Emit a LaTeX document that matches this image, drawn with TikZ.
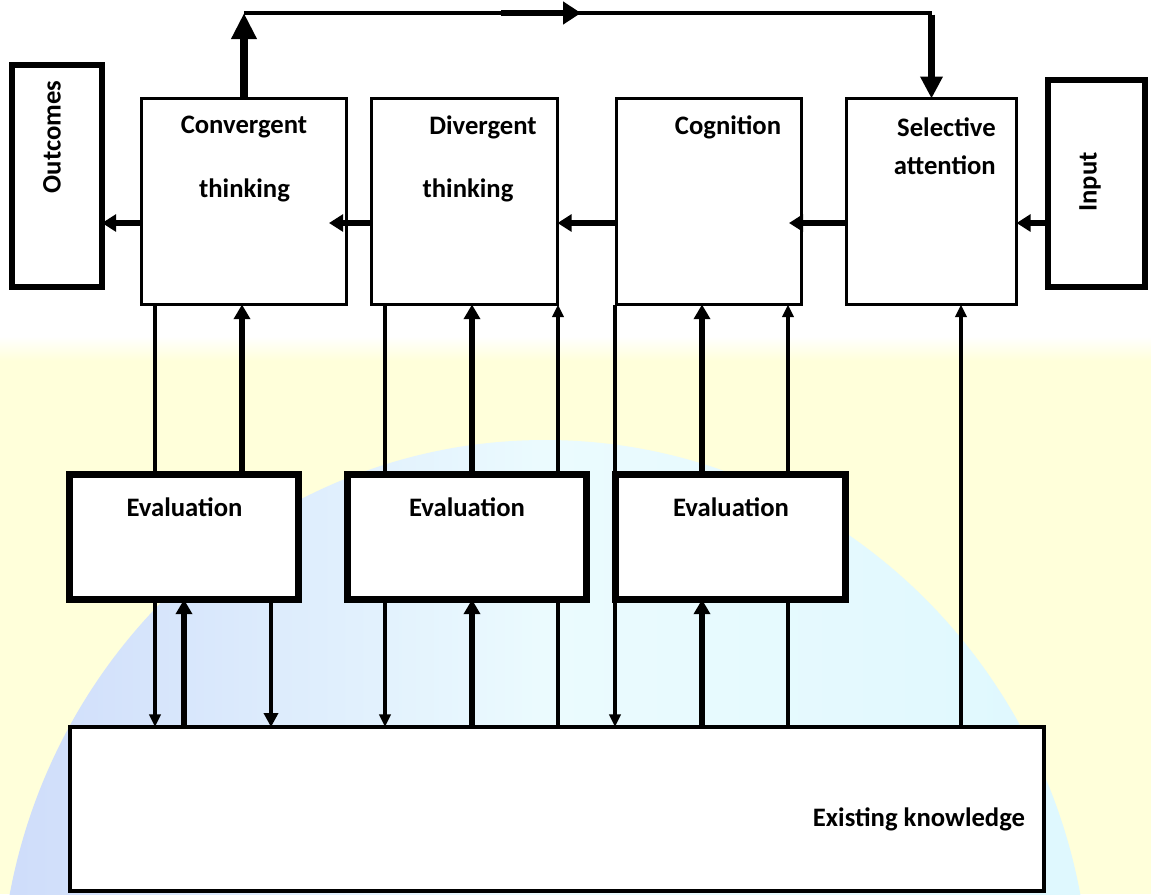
\documentclass[tikz,border=0pt]{standalone}
\usepackage{fontspec}
\setmainfont{Carlito}
\usetikzlibrary{arrows.meta}
\definecolor{bgyellow}{RGB}{255,255,218}
\definecolor{bgcyan}{RGB}{222,248,254}
\definecolor{bgblue}{RGB}{206,220,250}
\begin{document}
\begin{tikzpicture}[x=0.75pt,y=-0.75pt,
  box/.style={draw, fill=white, inner sep=0pt, outer sep=0pt},
  topbox/.style={box, line width=2.3pt},
  sidebox/.style={box, line width=4.6pt},
  evalbox/.style={box, line width=5.2pt, minimum width=229*0.75pt, minimum height=125*0.75pt},
  kbox/.style={box, line width=3pt},
  lbl/.style={font=\fontsize{20}{24}\selectfont\bfseries, inner sep=0pt},
  cthin/.style={line width=2.4pt},
  cmed/.style={line width=3.4pt},
  cthick/.style={line width=4.6pt},
  hz/.style={line width=3.8pt, -{Triangle[length=10.5pt,width=12.5pt]}},
  tipS/.style={-{Triangle[length=9.5pt,width=8.5pt]}},
  tipM/.style={-{Triangle[length=10.5pt,width=10.5pt]}},
  tipL/.style={-{Triangle[length=11pt,width=12pt]}}
]
\useasboundingbox (0,0) rectangle (1151,894);
% background
\fill[bgyellow] (0,360) rectangle (1151,894);
\shade[top color=white, bottom color=bgyellow] (0,336) rectangle (1151,361);
\begin{scope}
\clip (0,0) rectangle (1151,894);
\shade[left color=bgblue, right color=bgcyan, middle color=bgcyan!60!white] (545,1000) ellipse [x radius=545, y radius=560];
\end{scope}

% boxes
\node[sidebox, minimum width=90*0.75pt, minimum height=222*0.75pt] (outc) at (57,176) {};
\node[topbox, minimum width=205*0.75pt, minimum height=206*0.75pt] (conv) at (244,201.5) {};
\node[topbox, minimum width=186*0.75pt, minimum height=206*0.75pt] (div) at (464.5,201.5) {};
\node[topbox, minimum width=185*0.75pt, minimum height=206*0.75pt] (cog) at (709,201.5) {};
\node[topbox, minimum width=170*0.75pt, minimum height=206*0.75pt] (sel) at (931.5,201.5) {};
\node[sidebox, minimum width=97*0.75pt, minimum height=207*0.75pt] (inp) at (1096.5,183.5) {};
\node[evalbox] (eval1) at (184,537) {};
\node[evalbox, minimum width=239*0.75pt] (eval2) at (467,537) {};
\node[evalbox, minimum width=230*0.75pt] (eval3) at (730.5,537) {};
\node[kbox, minimum width=974*0.75pt, minimum height=164*0.75pt] (ek) at (557,809) {};

% labels
\node[lbl, rotate=90] (outcT) at (52,137) {Outcomes};
\node[lbl] (convT1) at (244,127) {Convergent};
\node[lbl] (convT2) at (244.5,190) {thinking};
\node[lbl] (divT1) at (483,127) {Divergent};
\node[lbl] (divT2) at (468,190) {thinking};
\node[lbl] (cogT) at (728,127) {Cognition};
\node[lbl, anchor=east] (selT1) at (996,127) {Selective};
\node[lbl, anchor=east] (selT2) at (996,165) {attention};
\node[lbl, rotate=90] (inpT) at (1090,182) {Input};
\node[lbl] (ev1T) at (184.5,507) {Evaluation};
\node[lbl] (ev2T) at (467,507) {Evaluation};
\node[lbl] (ev3T) at (731,507) {Evaluation};
\node[lbl] (ekT) at (919,819) {Existing knowledge};

% helper coordinates
\coordinate (hy) at (0,223);
\coordinate (tDC) at (329,223);
\coordinate (tSC) at (789,223);
\coordinate (ty) at (0,13);
\coordinate (m1) at (501,13);
\coordinate (m2) at (581,13);
\coordinate (xa) at (155,0);
\coordinate (xb) at (242,0);
\coordinate (xc) at (184,0);
\coordinate (xd) at (271,0);
\coordinate (xe) at (385,0);
\coordinate (xf) at (472,0);
\coordinate (xg) at (558,0);
\coordinate (xh) at (615,0);
\coordinate (xi) at (702,0);
\coordinate (xj) at (788,0);
\coordinate (xk) at (961,0);

% horizontal arrows
\draw[hz] (conv.west |- hy) -- (outc.east |- hy);
\draw[hz] (div.west |- hy) -- (tDC);
\draw[hz] (cog.west |- hy) -- (div.east |- hy);
\draw[hz] (sel.west |- hy) -- (tSC);
\draw[hz] (inp.west |- hy) -- (sel.east |- hy);

% top loop
\draw[line width=5.5pt, -{Triangle[length=19.5pt,width=18pt]}] (conv.north) -- (conv.north |- ty);
\draw[line width=3pt] (conv.north |- ty) -- (sel.north |- ty);
\draw[line width=5.5pt, -{Triangle[length=16.5pt,width=16pt]}] ([yshift=-1.2pt]sel.north |- ty) -- (sel.north);
\draw[line width=5pt, -{Triangle[length=13.5pt,width=16.5pt]}] (m1) -- (m2);

% connectors between top boxes and evaluation boxes
\draw[cthin] (eval1.north -| xa) -- (conv.south -| xa);
\draw[cthick, tipL] (eval1.north -| xb) -- (conv.south -| xb);
\draw[cthin] (eval2.north -| xe) -- (div.south -| xe);
\draw[cthick, tipL] (eval2.north -| xf) -- (div.south -| xf);
\draw[cthin, tipS] (eval2.north -| xg) -- (div.south -| xg);
\draw[cthin, tipS] (cog.south -| xh) -- (ek.north -| xh);
\draw[cthick, tipL] (eval3.north -| xi) -- (cog.south -| xi);
\draw[cthin, tipS] (eval3.north -| xj) -- (cog.south -| xj);
\draw[cthin, tipS] (ek.north -| xk) -- (sel.south -| xk);

% connectors between evaluation boxes and existing knowledge
\draw[cthin, tipS] (eval1.south -| xa) -- (ek.north -| xa);
\draw[cthick, tipL] (ek.north -| xc) -- (eval1.south -| xc);
\draw[cmed, tipM] (eval1.south -| xd) -- (ek.north -| xd);
\draw[cthin, tipS] (eval2.south -| xe) -- (ek.north -| xe);
\draw[cthick, tipL] (ek.north -| xf) -- (eval2.south -| xf);
\draw[cthin] (ek.north -| xg) -- (eval2.south -| xg);
\draw[cthick, tipL] (ek.north -| xi) -- (eval3.south -| xi);
\draw[cthin] (ek.north -| xj) -- (eval3.south -| xj);
\end{tikzpicture}
\end{document}
